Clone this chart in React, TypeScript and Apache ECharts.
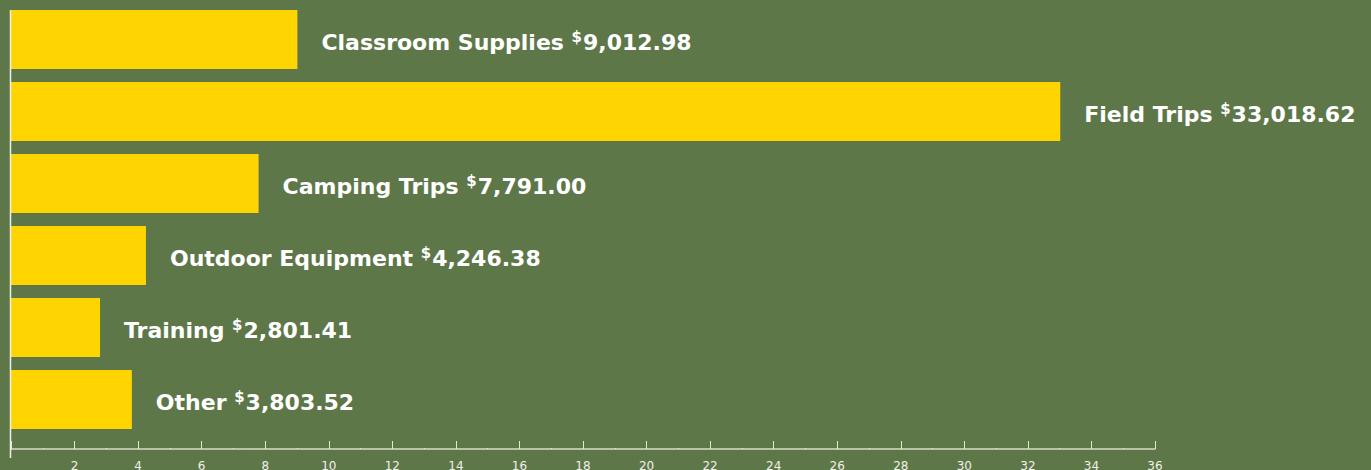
import React, { useEffect, useRef } from "react";
import * as echarts from "echarts";

const categories = ["Classroom Supplies", "Field Trips", "Camping Trips", "Outdoor Equipment", "Training", "Other"];
const amounts = [9012.98, 33018.62, 7791.0, 4246.38, 2801.41, 3803.52];
const xTicks = { min: 0, max: 36, interval: 2 };

const fmt = (v: number) =>
  v.toLocaleString("en-US", { minimumFractionDigits: 2, maximumFractionDigits: 2 });

export default function App() {
  const ref = useRef<HTMLDivElement>(null);
  useEffect(() => {
    document.body.style.margin = "0";
    const chart = echarts.init(ref.current!, null, { renderer: "svg" });
    const font = "'DejaVu Sans', sans-serif";
    chart.setOption({
      animation: false,
      backgroundColor: "#5E7749",
      grid: { left: 11, right: 216, top: 3.5, height: 432, containLabel: false, outerBoundsMode: "none" },
      xAxis: {
        type: "value",
        min: xTicks.min,
        max: xTicks.max,
        interval: xTicks.interval,
        offset: 13.5,
        axisLine: { show: true, lineStyle: { color: "#d8dcc6", width: 1.5 } },
        axisTick: { show: true, inside: true, length: 8, lineStyle: { color: "#e4e6d8", width: 1 } },
        minorTick: { show: true, splitNumber: 2, length: 1, lineStyle: { color: "#e4e6d8" } },
        splitLine: { show: false },
        axisLabel: {
          showMinLabel: false,
          color: "#eef0e6",
          fontSize: 12,
          fontFamily: font,
          margin: 11,
        },
      },
      yAxis: {
        type: "category",
        data: categories,
        inverse: true,
        axisLine: { show: false },
        axisTick: { show: false },
        axisLabel: { show: false },
      },
      graphic: [
        {
          type: "line",
          shape: { x1: 10.5, y1: 10, x2: 10.5, y2: 458 },
          style: { stroke: "#eef0e6", lineWidth: 1.5 },
          z: 10,
        },
      ],
      series: [
        {
          type: "bar",
          data: amounts.map((v) => v / 1000),
          barWidth: 59,
          itemStyle: { color: "#FFD500" },
          label: {
            show: true,
            position: "right",
            distance: 24,
            offset: [0, 3],
            formatter: (p: any) => `{n|${categories[p.dataIndex]} }{c|$}{n|${fmt(amounts[p.dataIndex])}}`,
            rich: {
              n: { color: "#ffffff", fontSize: 22, fontWeight: "bold", fontFamily: font },
              c: { color: "#ffffff", fontSize: 15, fontWeight: "bold", fontFamily: font, verticalAlign: "top", padding: [0, 1, 12, 0] },
            },
          },
        },
      ],
    });
    return () => chart.dispose();
  }, []);
  return <div ref={ref} style={{ width: 1371, height: 470 }} />;
}
